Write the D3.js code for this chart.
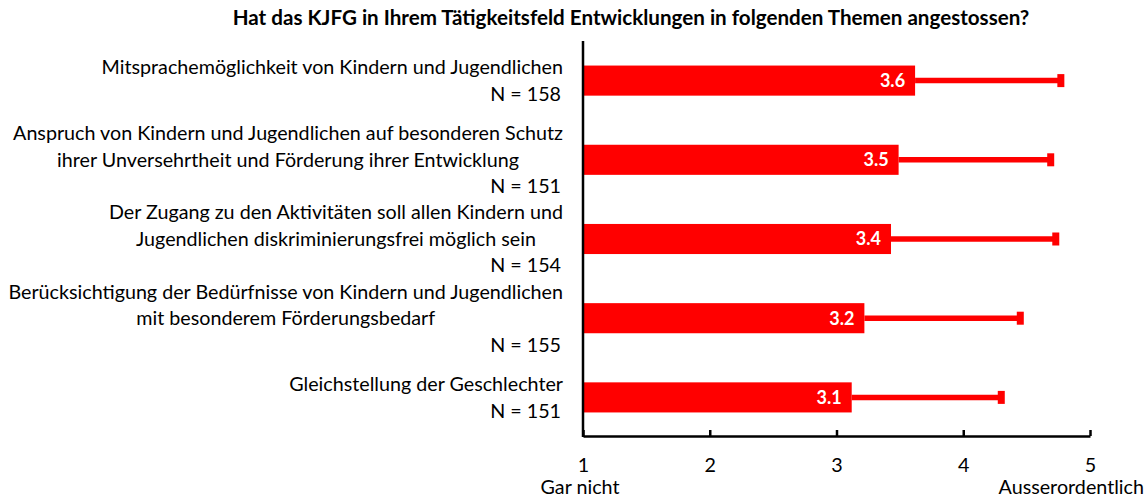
<!DOCTYPE html>
<html>
<head>
<meta charset="utf-8">
<script src="https://cdn.jsdelivr.net/npm/d3@7"></script>
<style>
  html, body { margin: 0; padding: 0; background: #fff; }
  svg { display: block; font-family: Lato, "Open Sans", sans-serif; }
</style>
</head>
<body>
<svg id="chart" width="1148" height="499"></svg>
<script>
const title = "Hat das KJFG in Ihrem Tätigkeitsfeld Entwicklungen in folgenden Themen angestossen?";
const categories = [
  ["Mitsprachemöglichkeit von Kindern und Jugendlichen"],
  ["Anspruch von Kindern und Jugendlichen auf besonderen Schutz", "ihrer Unversehrtheit und Förderung ihrer Entwicklung"],
  ["Der Zugang zu den Aktivitäten soll allen Kindern und", "Jugendlichen diskriminierungsfrei möglich sein"],
  ["Berücksichtigung der Bedürfnisse von Kindern und Jugendlichen", "mit besonderem Förderungsbedarf"],
  ["Gleichstellung der Geschlechter"]
];
const nValues = [158, 151, 154, 155, 151];
const means = [3.62, 3.49, 3.43, 3.22, 3.12];
const errors = [1.15, 1.20, 1.30, 1.23, 1.18];
const tickValues = [1, 2, 3, 4, 5];
const endLabels = ["Gar nicht", "Ausserordentlich"];

const svg = d3.select("#chart");
const red = "#ff0000";

const x = d3.scaleLinear().domain([1, 5]).range([583, 1090]);
const y = d3.scaleBand().domain(d3.range(categories.length))
  .range([41, 437]).paddingInner(0.62).paddingOuter(0.31);

// Title
const t = svg.append("text")
  .attr("x", 631).attr("y", 25)
  .attr("text-anchor", "middle")
  .attr("font-weight", "bold")
  .attr("font-size", 100)
  .attr("fill", "#000")
  .text(title);
const tw = t.node().getComputedTextLength();
t.attr("font-size", 100 * 797 / tw);

// Bars
svg.append("g").selectAll("rect").data(means).join("rect")
  .attr("x", x(1))
  .attr("y", (d, i) => y(i))
  .attr("width", d => x(d) - x(1))
  .attr("height", y.bandwidth())
  .attr("fill", red);

// Error bars
const eg = svg.append("g");
eg.selectAll("line").data(means).join("line")
  .attr("x1", d => x(d))
  .attr("x2", (d, i) => x(d + errors[i]))
  .attr("y1", (d, i) => y(i) + y.bandwidth() / 2)
  .attr("y2", (d, i) => y(i) + y.bandwidth() / 2)
  .attr("stroke", red).attr("stroke-width", 5.5);
eg.selectAll("rect").data(means).join("rect")
  .attr("x", (d, i) => x(d + errors[i]) - 3.5)
  .attr("y", (d, i) => y(i) + y.bandwidth() / 2 - 6.5)
  .attr("width", 7).attr("height", 13)
  .attr("fill", red);

// Value labels
svg.append("g").selectAll("text").data(means).join("text")
  .attr("x", d => x(d) - 10)
  .attr("y", (d, i) => y(i) + y.bandwidth() / 2)
  .attr("dy", "0.35em")
  .attr("text-anchor", "end")
  .attr("font-weight", "bold")
  .attr("font-size", 18)
  .attr("fill", "#fff")
  .text(d => d3.format(".1f")(d));

// Category labels
const lg = svg.append("g").attr("fill", "#000");
const probe = lg.append("text").attr("font-size", 100).text(categories[3][0]);
const pw = probe.node().getComputedTextLength();
probe.remove();
const fs = 100 * 555 / pw;
const labelRight = 563;
const lineH = 26.5;
categories.forEach((lines, i) => {
  const all = lines.concat(["N = " + nValues[i]]);
  const cy = y(i) + y.bandwidth() / 2;
  const y0 = cy - (all.length - 1) * lineH / 2;
  const widths = lines.map(s => {
    const p = lg.append("text").attr("font-size", fs).text(s);
    const w = p.node().getComputedTextLength();
    p.remove();
    return w;
  });
  const W = d3.max(widths);
  const cx = labelRight - W / 2;
  lines.forEach((s, k) => {
    lg.append("text")
      .attr("x", cx).attr("y", y0 + k * lineH)
      .attr("dy", "0.35em")
      .attr("text-anchor", "middle")
      .attr("font-size", fs)
      .text(s);
  });
  lg.append("text")
    .attr("x", labelRight - 2).attr("y", y0 + lines.length * lineH)
    .attr("dy", "0.35em")
    .attr("text-anchor", "end")
    .attr("font-size", fs)
    .text("N = " + nValues[i]);
});

// X axis
const xAxis = d3.axisBottom(x).tickValues(tickValues).tickSize(-6).tickPadding(22).tickSizeOuter(0)
  .tickFormat(d3.format("d"));
const ax = svg.append("g").attr("transform", "translate(0,436)").call(xAxis);
ax.select(".domain").attr("stroke", "#000").attr("stroke-width", 2.5);
ax.selectAll(".tick line").attr("stroke", "#000").attr("stroke-width", 2.5);
ax.selectAll(".tick text").attr("font-size", fs).attr("font-family", "Lato, sans-serif").attr("fill", "#000");

// Y axis line
svg.append("line")
  .attr("x1", x(1)).attr("x2", x(1))
  .attr("y1", 41).attr("y2", 437)
  .attr("stroke", "#000").attr("stroke-width", 2.5);

// End labels
svg.append("text").attr("x", x(1) - 3).attr("y", 487).attr("dy", "0.35em")
  .attr("text-anchor", "middle").attr("font-size", fs).text(endLabels[0]);
svg.append("text").attr("x", 1144).attr("y", 487).attr("dy", "0.35em")
  .attr("text-anchor", "end").attr("font-size", fs).text(endLabels[1]);
</script>
</body>
</html>
